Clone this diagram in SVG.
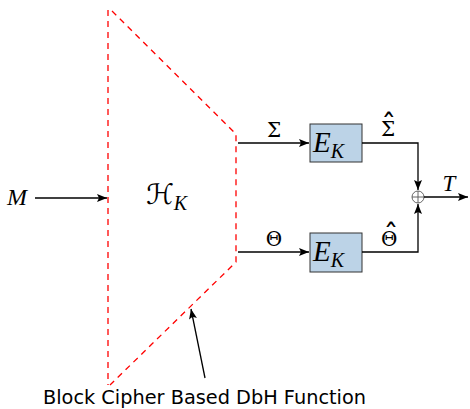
<svg xmlns="http://www.w3.org/2000/svg" width="470" height="409" viewBox="0 0 470 409">
<defs>
<marker id="ah" viewBox="0 0 10 8" refX="10" refY="4" markerWidth="10" markerHeight="8" markerUnits="userSpaceOnUse" orient="auto">
<path d="M0,0 L10,4 L0,8 L2,4 Z" fill="#000"/>
</marker>
</defs>
<style>
.dash{fill:none;stroke:#ff0000;stroke-width:1.3;stroke-dasharray:6,5}
.ln{fill:none;stroke:#000;stroke-width:1.3}
.box{fill:#bcd3e7;stroke:#333;stroke-width:1}
.math{font-family:"Liberation Serif","DejaVu Serif",serif;font-style:italic;fill:#000}
.up{font-family:"DejaVu Serif","Liberation Serif",serif;fill:#000}
.hat{font-family:"DejaVu Sans","Liberation Sans",sans-serif}
.sans{font-family:"DejaVu Sans","Liberation Sans",sans-serif;fill:#000}
</style>
<g id="hash">
<path class="dash" d="M108,10 L108,385 M112,11 L236,134 L236,262 L110,385"/>
<text x="146" y="204" font-size="28" font-family="DejaVu Sans, sans-serif" fill="#000">ℋ<tspan class="math" font-size="20" dy="6">K</tspan></text>
</g>
<g id="M"><text class="math" x="7" y="205" font-size="24">M</text></g>
<g id="ek1">
<rect class="box" x="310" y="124" width="52" height="38"/>
<text class="math" x="313" y="152" font-size="29">E<tspan font-size="20" dy="6">K</tspan></text>
</g>
<g id="ek2">
<rect class="box" x="310" y="233" width="52" height="39"/>
<text class="math" x="313" y="261" font-size="29">E<tspan font-size="20" dy="6">K</tspan></text>
</g>
<g id="xor">
<circle cx="418" cy="197" r="6" fill="none" stroke="#555" stroke-width="0.9"/>
<path d="M412,197 H424 M418,191 V203" stroke="#555" stroke-width="0.9"/>
</g>
<g id="connectors">
<path class="ln" d="M35,198 H107" marker-end="url(#ah)"/>
<path class="ln" d="M238,143 H309" marker-end="url(#ah)"/>
<path class="ln" d="M238,252 H309" marker-end="url(#ah)"/>
<path class="ln" d="M362,143 H418 V190" marker-end="url(#ah)"/>
<path class="ln" d="M362,252 H418 V204" marker-end="url(#ah)"/>
<path class="ln" d="M424,197 H468" marker-end="url(#ah)"/>
<path class="ln" d="M205,378 L191,309" marker-end="url(#ah)"/>
</g>
<g id="labels">
<text class="up" x="274" y="137" font-size="20" text-anchor="middle">Σ</text>
<text class="up" x="381" y="136" font-size="20">Σ<tspan class="hat" font-size="30" dx="-14" dy="0">ˆ</tspan></text>
<text class="up" x="274" y="246" font-size="20" text-anchor="middle">Θ</text>
<text class="up" x="381" y="246" font-size="20">Θ<tspan class="hat" font-size="30" dx="-14" dy="0">ˆ</tspan></text>
<text class="math" x="449" y="191" font-size="23" text-anchor="middle">T</text>
<text class="sans" x="43" y="404" font-size="19" textLength="323" lengthAdjust="spacingAndGlyphs">Block Cipher Based DbH Function</text>
</g>
</svg>
